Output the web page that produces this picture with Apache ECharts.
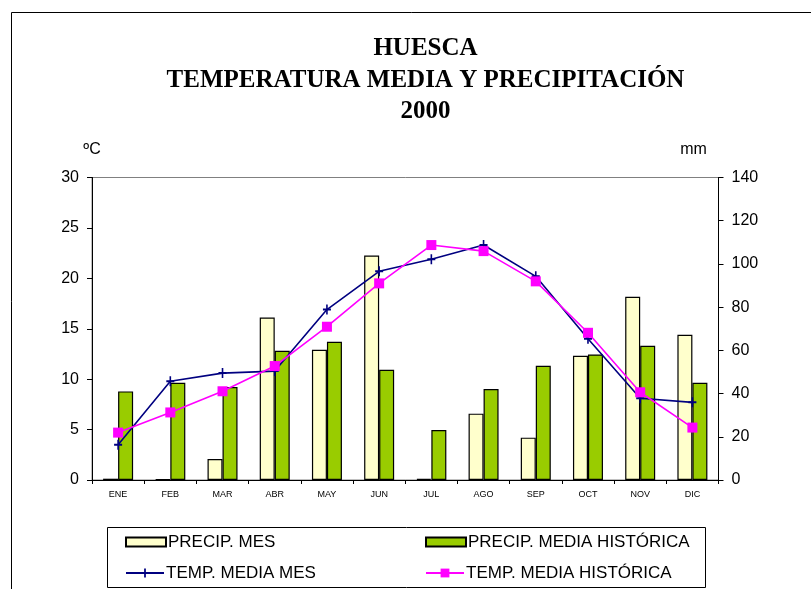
<!DOCTYPE html>
<html>
<head>
<meta charset="utf-8">
<script src="https://cdn.jsdelivr.net/npm/echarts@6/dist/echarts.min.js"></script>
<style>
  html, body { margin: 0; padding: 0; background: #fff; }
  #chart { width: 811px; height: 589px; }
</style>
</head>
<body>
<div id="chart"></div>
<script>
const categories = ['ENE','FEB','MAR','ABR','MAY','JUN','JUL','AGO','SEP','OCT','NOV','DIC'];
const precipMes = [0.6, 0.3, 9.7, 75.2, 60.3, 103.9, 0.5, 30.7, 19.6, 57.5, 84.8, 67.2];
const precipHist = [41.0, 45.0, 43.0, 59.8, 64.0, 51.0, 23.1, 42.1, 52.9, 58.1, 62.1, 45.0];
const tempMes = [3.5, 9.8, 10.6, 10.8, 16.9, 20.7, 21.9, 23.3, 20.2, 14.0, 8.1, 7.7];
const tempHist = [4.7, 6.7, 8.8, 11.3, 15.2, 19.5, 23.3, 22.7, 19.7, 14.6, 8.7, 5.2];
const titleLines = ['HUESCA', 'TEMPERATURA MEDIA Y PRECIPITACIÓN', '2000'];
const seriesNames = ['PRECIP. MES', 'PRECIP. MEDIA HISTÓRICA', 'TEMP. MEDIA MES', 'TEMP. MEDIA HISTÓRICA'];

const SANS = '"Liberation Sans", Arial, sans-serif';
const plusPath = 'path://M0,4H10V6H0Z M4,0H6V10H4Z';

const chart = echarts.init(document.getElementById('chart'), null, { renderer: 'canvas' });

function legendBox(name, left, top, isLine) {
  return {
    data: [name],
    left: left,
    top: top,
    padding: 0,
    orient: 'horizontal',
    selectedMode: false,
    itemWidth: isLine ? 38 : 40,
    itemHeight: isLine ? 11 : 9,
    icon: isLine ? undefined : 'rect',
    textStyle: { fontFamily: SANS, fontSize: 17, color: '#000', lineHeight: 18, padding: [0, 0, 0, -3] }
  };
}

const option = {
  animation: false,
  backgroundColor: '#fff',
  graphic: [
    {
      type: 'rect',
      shape: { x: 11.5, y: 12.5, width: 900, height: 700 },
      style: { fill: 'none', stroke: '#000', lineWidth: 1 },
      silent: true
    },
    {
      type: 'text',
      x: 425.5,
      y: 32.5,
      style: {
        text: titleLines.join('\n'),
        font: 'bold 25px "Liberation Serif", "Times New Roman", serif',
        textAlign: 'center',
        textVerticalAlign: 'top',
        lineHeight: 31.7,
        fill: '#000'
      }
    },
    {
      type: 'rect',
      shape: { x: 107.5, y: 527.5, width: 598, height: 60 },
      style: { fill: 'none', stroke: '#000', lineWidth: 1 },
      silent: true
    }
  ],
  legend: [
    legendBox(seriesNames[0], 125, 533, false),
    legendBox(seriesNames[1], 425, 533, false),
    legendBox(seriesNames[2], 125, 564, true),
    legendBox(seriesNames[3], 425, 564, true)
  ],
  grid: {
    left: 92, right: 92.5, top: 177.5, bottom: 109,
    show: true, borderColor: '#808080', borderWidth: 1, backgroundColor: 'transparent',
    containLabel: false
  },
  xAxis: {
    type: 'category',
    data: categories,
    boundaryGap: true,
    axisLine: { lineStyle: { color: '#000', width: 1 } },
    axisTick: { show: true, alignWithLabel: false, length: 4, lineStyle: { color: '#000' } },
    axisLabel: { fontFamily: SANS, fontSize: 9, color: '#000', margin: 10, interval: 0 },
    splitLine: { show: false }
  },
  yAxis: [
    {
      type: 'value', min: 0, max: 30, interval: 5, position: 'left',
      name: 'ºC', nameLocation: 'end', nameGap: 20,
      nameTextStyle: { fontFamily: SANS, fontSize: 16, color: '#000', align: 'center' },
      axisLine: { show: true, lineStyle: { color: '#000', width: 1 } },
      axisTick: { show: true, length: 5, lineStyle: { color: '#000' } },
      axisLabel: { fontFamily: SANS, fontSize: 16, color: '#000', margin: 13 },
      splitLine: { show: false }
    },
    {
      type: 'value', min: 0, max: 140, interval: 20, position: 'right',
      name: 'mm', nameLocation: 'end', nameGap: 20,
      nameTextStyle: { fontFamily: SANS, fontSize: 16, color: '#000', align: 'center', padding: [0, 50, 0, 0] },
      axisLine: { show: true, lineStyle: { color: '#000', width: 1 } },
      axisTick: { show: true, length: 5, lineStyle: { color: '#000' } },
      axisLabel: { fontFamily: SANS, fontSize: 16, color: '#000', margin: 13 },
      splitLine: { show: false }
    }
  ],
  series: [
    {
      name: seriesNames[0], type: 'bar', yAxisIndex: 1, data: precipMes,
      barWidth: 15, barGap: '0%',
      itemStyle: { color: '#FFFFCC', borderColor: '#000', borderWidth: 1.2 }
    },
    {
      name: seriesNames[1], type: 'bar', yAxisIndex: 1, data: precipHist,
      barWidth: 15, barGap: '0%',
      itemStyle: { color: '#99CC00', borderColor: '#000', borderWidth: 1.2 }
    },
    {
      name: seriesNames[2], type: 'line', yAxisIndex: 0, data: tempMes,
      symbol: plusPath, symbolSize: [8, 10], showAllSymbol: true, z: 3,
      lineStyle: { color: '#000080', width: 1.6 },
      itemStyle: { color: '#000080' }
    },
    {
      name: seriesNames[3], type: 'line', yAxisIndex: 0, data: tempHist,
      symbol: 'rect', symbolSize: 10, showAllSymbol: true, z: 4,
      lineStyle: { color: '#FF00FF', width: 1.6 },
      itemStyle: { color: '#FF00FF' }
    }
  ]
};

chart.setOption(option);
</script>
</body>
</html>
